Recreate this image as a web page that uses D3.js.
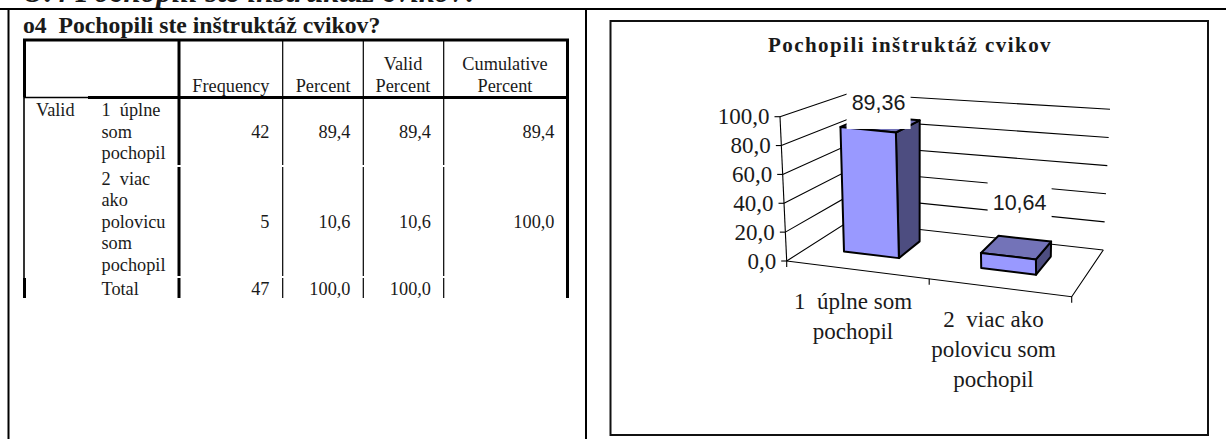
<!DOCTYPE html>
<html lang="sk">
<head>
<meta charset="utf-8">
<title>Pochopili inštruktáž cvikov</title>
<script src="https://cdn.jsdelivr.net/npm/d3@7"></script>
<style>
  html, body { margin: 0; padding: 0; background: #fff; }
  svg { display: block; }
  text { font-family: "Liberation Serif", serif; fill: #1a1a1a; white-space: pre; }
</style>
</head>
<body>
<svg id="page" width="1226" height="439"></svg>
<script>
// Frequency table values
const tableHeading = "o4  Pochopili ste inštruktáž cvikov?";
const sectionHeading = "O.4 Pochopili ste inštruktáž cvikov?";
const rowGroup = "Valid";
const rowLabels = [
  ["1  úplne", "som", "pochopil"],
  ["2  viac", "ako", "polovicu", "som", "pochopil"],
  ["Total"]
];
const frequency = ["42", "5", "47"];
const percent = ["89,4", "10,6", "100,0"];
const validPercent = ["89,4", "10,6", "100,0"];
const cumulativePercent = ["89,4", "100,0", ""];

// Chart values
const chartTitle = "Pochopili inštruktáž cvikov";
const categories = ["1  úplne som pochopil", "2  viac ako polovicu som pochopil"];
const categoryLines = [
  ["1  úplne som", "pochopil"],
  ["2  viac ako", "polovicu som", "pochopil"]
];
const shares = [89.36, 10.64];
const valueTicks = [0, 20, 40, 60, 80, 100];

const svg = d3.select("#page");
const fmt = v => v.toFixed(1).replace(".", ",");
const fmt2 = v => v.toFixed(2).replace(".", ",");

function line(g, x1, y1, x2, y2, w, color = "#000") {
  return g.append("line").attr("x1", x1).attr("y1", y1).attr("x2", x2).attr("y2", y2)
    .attr("stroke", color).attr("stroke-width", w);
}

/* ---------- page frame ---------- */
svg.append("text").attr("x", 22).attr("y", 2)
  .attr("font-size", 31).attr("font-weight", 700).attr("font-style", "italic")
  .text(sectionHeading);

const frame = svg.append("g");
line(frame, 0, 9, 1226, 9, 2);
line(frame, 8.5, 9, 8.5, 439, 2);
line(frame, 586, 9, 586, 439, 2);
frame.append("rect").attr("x", 610.5).attr("y", 21).attr("width", 597.5).attr("height", 414)
  .attr("fill", "none").attr("stroke", "#111").attr("stroke-width", 2);

/* ---------- frequency table ---------- */
const table = svg.append("g");
table.append("text").attr("x", 23).attr("y", 32.5)
  .attr("font-size", 23.7).attr("font-weight", 700).attr("fill", "#000").text(tableHeading);

const tableLeft = 24.5, tableRight = 567.5, tableTop = 40, headBottom = 97.5, tableBottom = 298;
const rowBreaks = [166, 277];
const thinRules = [282.7, 363.3, 443.7];
const stubRule = 179;

line(table, tableLeft - 1.5, tableTop, tableRight + 1.5, tableTop, 3);
line(table, tableLeft, tableTop, tableLeft, headBottom, 3);
line(table, tableRight, tableTop, tableRight, tableBottom, 3);
line(table, tableLeft - 1, headBottom, 88, headBottom, 1.6);
line(table, 88, headBottom, tableRight, headBottom, 3);
line(table, tableLeft - .5, headBottom, tableLeft - .5, rowBreaks[1] + 1, 1.6);
line(table, tableLeft, rowBreaks[1] + 1, tableLeft, tableBottom, 3);

// Rules between columns break for a pixel or two at each row boundary
const segments = [tableTop, ...rowBreaks, tableBottom];
d3.pairs(segments).forEach(([a, b], i) => {
  const top = i === 0 ? a : a + 1;
  const end = i === segments.length - 2 ? b : b - 1;
  line(table, stubRule, top, stubRule, end, 3);
  thinRules.forEach(x => line(table, x, top, x, end, 1.2));
});

const tableFont = 18.3;
const headRight = (x, y, s) => table.append("text").attr("x", x).attr("y", y)
  .attr("text-anchor", "end").attr("font-size", tableFont).text(s);
const headMid = (x, y, s) => table.append("text").attr("x", x).attr("y", y)
  .attr("text-anchor", "middle").attr("font-size", tableFont).text(s);
headRight(269.5, 92, "Frequency");
headRight(350.5, 92, "Percent");
headMid(403, 70, "Valid");
headMid(403, 92, "Percent");
headMid(505, 70, "Cumulative");
headMid(505, 92, "Percent");

table.append("text").attr("x", 36).attr("y", 116).attr("font-size", tableFont).text(rowGroup);

const rowFirstBaseline = [116, 184.5, 295];
const rowNumberBaseline = [138, 228, 295];
const lineStep = 21.6;
rowLabels.forEach((lines, r) => {
  lines.forEach((s, i) => {
    table.append("text").attr("x", 101.5).attr("y", rowFirstBaseline[r] + i * lineStep)
      .attr("font-size", tableFont).text(s);
  });
});
const numberColumns = [
  [frequency, 269.5],
  [percent, 350.5],
  [validPercent, 431],
  [cumulativePercent, 554.5]
];
numberColumns.forEach(([vals, x]) => {
  table.selectAll(null).data(vals).join("text")
    .attr("x", x).attr("y", (d, i) => rowNumberBaseline[i])
    .attr("text-anchor", "end").attr("font-size", tableFont).text(d => d);
});

/* ---------- perspective column chart ---------- */
const chart = svg.append("g");
chart.append("text").attr("x", 910).attr("y", 52).attr("text-anchor", "middle")
  .attr("font-size", 21).attr("font-weight", 700).attr("letter-spacing", 1.45)
  .attr("fill", "#000").text(chartTitle);

// The box is described by its four vertical edges, each with a base point and a top point
const edgeFrontLeft  = { base: [786.7, 261],   top: [780, 116.7] };
const edgeBackLeft   = { base: [848.5, 221.5], top: [848.5, 93.5] };
const edgeBackRight  = { base: [1103.3, 250],  top: [1110, 109.3] };
const edgeFrontRight = { base: [1071.7, 296.7], top: [1066, 150] };

const value = d3.scaleLinear().domain([0, 100]).range([0, 1]);
const lerp = (a, b, t) => a + (b - a) * t;
const onEdge = (e, t) => [lerp(e.base[0], e.top[0], t), lerp(e.base[1], e.top[1], t)];

// across: 0..1 left to right, depth: 0 front .. 1 back, v: data value
function project(across, depth, v) {
  const t = value(v);
  const fl = onEdge(edgeFrontLeft, t), fr = onEdge(edgeFrontRight, t);
  const bl = onEdge(edgeBackLeft, t), br = onEdge(edgeBackRight, t);
  const l = [lerp(fl[0], bl[0], depth), lerp(fl[1], bl[1], depth)];
  const r = [lerp(fr[0], br[0], depth), lerp(fr[1], br[1], depth)];
  return [lerp(l[0], r[0], across), lerp(l[1], r[1], across)];
}

const band = d3.scaleBand().domain(categories).range([-0.02, 0.98]).paddingInner(0.6).paddingOuter(0.3);
const depthNear = 0.35, depthFar = 0.75;
const wireLine = d3.line();

const walls = chart.append("g").attr("fill", "none").attr("stroke", "#000").attr("stroke-width", 1.1);
valueTicks.forEach(v => {
  walls.append("path").attr("d", wireLine([project(0, 0, v), project(0, 1, v), project(1, 1, v)]));
  const [ax, ay] = project(0, 0, v);
  walls.append("path").attr("d", wireLine([[ax - 5.5, ay], [ax, ay]]));
  chart.append("text").attr("x", ax - 10.5).attr("y", ay + 7.5).attr("text-anchor", "end")
    .attr("font-size", 23).text(fmt(v));
});

// Vertical axis, floor outline and category ticks
walls.append("path").attr("d", wireLine([project(0, 0, 100), project(0, 0, 0)]));
walls.append("path").attr("d", wireLine([project(0, 0, 0), project(1, 0, 0), project(1, 1, 0)]));
[0, 0.5, 1].forEach(a => {
  const [x, y] = project(a, 0, 0);
  walls.append("path").attr("d", wireLine([[x, y], [x, y + 6]]));
});

// Columns: side and top first, the front face over them
const outline = { stroke: "#000", "stroke-width": 2, "stroke-linejoin": "round" };
const face = (g, pts, fill) => {
  const p = g.append("path").attr("d", wireLine(pts) + "Z").attr("fill", fill);
  Object.entries(outline).forEach(([k, v]) => p.attr(k, v));
};
categories.forEach((c, i) => {
  const a0 = band(c), a1 = a0 + band.bandwidth(), v = shares[i];
  const g = chart.append("g");
  face(g, [project(a1, depthNear, 0), project(a1, depthFar, 0), project(a1, depthFar, v), project(a1, depthNear, v)], "#4d4d80");
  face(g, [project(a0, depthNear, v), project(a1, depthNear, v), project(a1, depthFar, v), project(a0, depthFar, v)], "#7373b8");
  face(g, [project(a0, depthNear, 0), project(a1, depthNear, 0), project(a1, depthNear, v), project(a0, depthNear, v)], "#9999ff");
});

// Value labels sit on opaque boxes that interrupt whatever lies behind them
const labelShift = [[-2, -21], [3, -45]];
const labelBox = [
  { w: 64, above: 19, below: 26 },
  { w: 64, above: 23, below: 19 }
];
categories.forEach((c, i) => {
  const mid = band(c) + band.bandwidth() / 2;
  const [px, py] = project(mid, (depthNear + depthFar) / 2, shares[i]);
  const cx = px + labelShift[i][0];
  const cy = py + labelShift[i][1];
  const b = labelBox[i];
  chart.append("rect").attr("x", cx - b.w / 2).attr("y", cy - b.above)
    .attr("width", b.w).attr("height", b.above + b.below).attr("fill", "#fff");
  chart.append("text").attr("x", cx).attr("y", cy + 7.5).attr("text-anchor", "middle")
    .style("font-family", '"Liberation Sans", sans-serif')
    .attr("font-size", 21.5).attr("fill", "#000").text(fmt2(shares[i]));
});

// Category labels under the floor
const categoryBaseline = [309, 326.5];
categoryLines.forEach((lines, i) => {
  const centre = i === 0 ? 853 : 993.5;
  lines.forEach((s, k) => {
    chart.append("text").attr("x", centre).attr("y", categoryBaseline[i] + k * 30.3)
      .attr("text-anchor", "middle").attr("font-size", 23).text(s);
  });
});
</script>
</body>
</html>
